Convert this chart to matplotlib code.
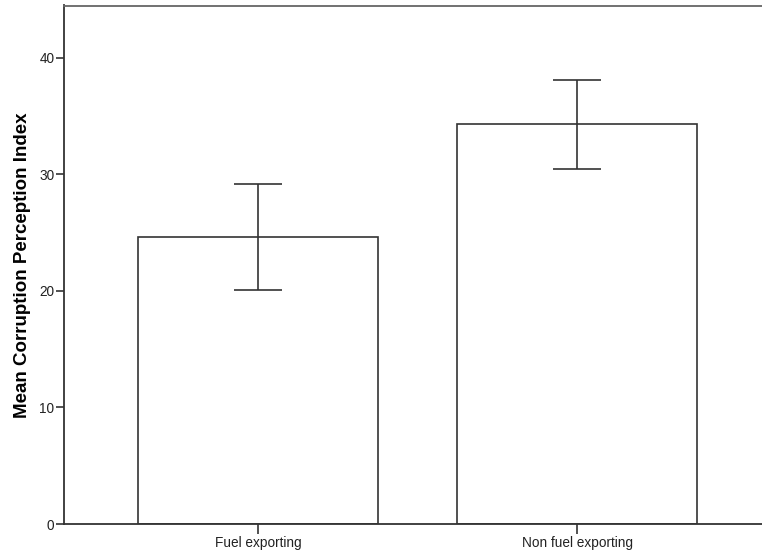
import matplotlib
matplotlib.use("Agg")
import matplotlib.pyplot as plt
import numpy as np

# Mean CPI by fuel-export group, with 95% CI bounds
groups = ["Fuel exporting", "Non fuel exporting"]
means = [24.65, 34.29]
ci_low = [20.09, 30.43]
ci_high = [29.15, 38.06]

plt.rcParams["font.family"] = ["Liberation Sans", "DejaVu Sans"]

fig = plt.figure(figsize=(7.62, 5.55), dpi=100, facecolor="white")
ax = fig.add_axes([64 / 762, 31 / 555, 707 / 762, 518.5 / 555])

x = np.arange(len(groups))
means_arr = np.array(means)
yerr = np.vstack([means_arr - np.array(ci_low), np.array(ci_high) - means_arr])

ax.bar(x, means, width=0.75, color="white", edgecolor="#333333",
       linewidth=1.2, zorder=2)
ax.errorbar(x, means, yerr=yerr, fmt="none", ecolor="#333333",
            elinewidth=1.2, capsize=17, capthick=1.2, zorder=3)

ax.set_xlim(-0.608, 1.608)
ax.set_ylim(0, 44.47)
ax.set_xticks(x)
ax.set_xticklabels(groups, fontsize=9.8)
ax.set_yticks([0, 10, 20, 30, 40])
ax.tick_params(axis="y", length=6, width=1.2, pad=1, labelsize=9.8,
               color="#333333", labelcolor="#222222")
ax.tick_params(axis="x", length=7, width=1.2, pad=2, labelsize=9.8,
               color="#333333", labelcolor="#222222")

ax.set_ylabel("Mean Corruption Perception Index", fontsize=13.5,
              fontweight="bold", labelpad=6)

ax.spines["right"].set_visible(False)
ax.spines["top"].set_color("#666666")
ax.spines["top"].set_linewidth(1.3)
for side in ["left", "bottom"]:
    ax.spines[side].set_color("#333333")
    ax.spines[side].set_linewidth(1.3)

fig.savefig("out.png", dpi=100, facecolor="white")
